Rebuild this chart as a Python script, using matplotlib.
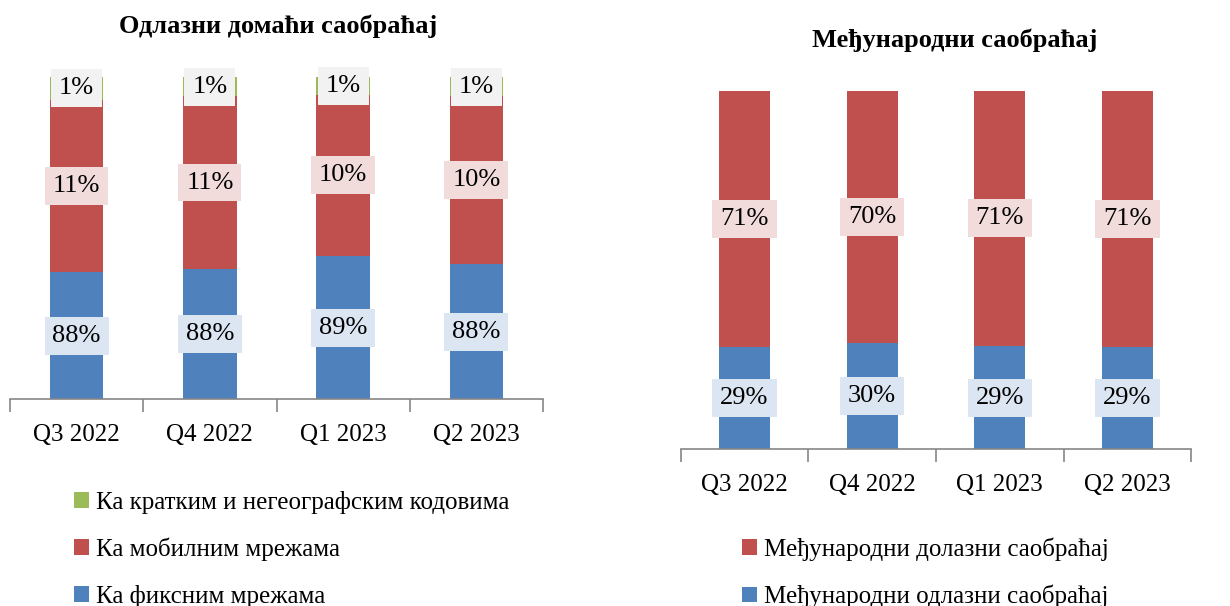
import matplotlib.pyplot as plt
import numpy as np

plt.rcParams['font.family'] = ['Liberation Serif', 'DejaVu Serif']

quarters = ['Q3 2022', 'Q4 2022', 'Q1 2023', 'Q2 2023']

# Odlazni domaci saobracaj (%)
fiksne = [87.9, 88.1, 88.9, 88.4]
mobilne = [10.7, 10.7, 10.0, 10.4]
kratki = [1.4, 1.2, 1.1, 1.2]

# Medjunarodni saobracaj (%)
odlazni = [28.6, 29.7, 28.8, 28.6]
dolazni = [71.4, 70.3, 71.2, 71.4]

blue = '#4f81bd'
red = '#c0504d'
green = '#9bbb59'
box_blue = '#dce6f2'
box_red = '#f2dcdb'
box_gray = '#f2f2f2'

fig = plt.figure(figsize=(12.3, 6.06), dpi=100)
W, H = 1230, 606


def px_axes(x0, x1, ybot, ytop):
    return fig.add_axes([x0 / W, (H - ybot) / H, (x1 - x0) / W, (ybot - ytop) / H])


def style_axis(ax):
    for s in ['top', 'right', 'left']:
        ax.spines[s].set_visible(False)
    ax.spines['bottom'].set_color('#868686')
    ax.spines['bottom'].set_linewidth(1.2)
    ax.set_yticks([])
    ax.set_xlim(-0.5, 3.5)
    ax.set_xticks(range(4))
    ax.set_xticklabels(quarters, fontsize=18)
    ax.set_xticks(np.arange(-0.5, 4.0, 1.0), minor=True)
    ax.tick_params(axis='x', which='major', length=0, pad=18)
    ax.tick_params(axis='x', which='minor', length=9, width=1.2, color='#868686')


def label(ax, x, y, val, bg):
    ax.text(x, y, f'{val:.0f}%', ha='center', va='center', fontsize=19,
            bbox=dict(boxstyle='square,pad=0.3', fc=bg, ec='none'), zorder=5)


x = np.arange(4)
wid = 0.4

# left chart
ax1 = px_axes(10, 543, 399.3, 77)
base = 80
b1 = ax1.bar(x, np.array(fiksne) - base, wid, bottom=base, color=blue)
b2 = ax1.bar(x, mobilne, wid, bottom=fiksne, color=red)
top2 = np.array(fiksne) + np.array(mobilne)
b3 = ax1.bar(x, kratki, wid, bottom=top2, color=green)
ax1.set_ylim(80, 100)
style_axis(ax1)
for i in range(4):
    label(ax1, x[i], (base + fiksne[i]) / 2, fiksne[i], box_blue)
    label(ax1, x[i], fiksne[i] + mobilne[i] / 2, mobilne[i], box_red)
    label(ax1, x[i], top2[i] + kratki[i] / 2, kratki[i], box_gray)
fig.text(278 / W, 1 - 26 / H, 'Одлазни домаћи саобраћај', ha='center', va='center',
         fontsize=19, fontweight='bold')

# right chart
ax2 = px_axes(680.7, 1191.3, 449.3, 90.7)
c1 = ax2.bar(x, odlazni, wid, color=blue)
c2 = ax2.bar(x, dolazni, wid, bottom=odlazni, color=red)
ax2.set_ylim(0, 100)
style_axis(ax2)
for i in range(4):
    label(ax2, x[i], odlazni[i] / 2, odlazni[i], box_blue)
    label(ax2, x[i], odlazni[i] + dolazni[i] / 2, dolazni[i], box_red)
fig.text(955 / W, 1 - 40 / H, 'Међународни саобраћај', ha='center', va='center',
         fontsize=19, fontweight='bold')

# legends
fig.legend([b3, b2, b1], ['Ка кратким и негеографским кодовима', 'Ка мобилним мрежама', 'Ка фиксним мрежама'],
           loc='upper left', bbox_to_anchor=(51 / W, 1 - 468 / H), frameon=False, fontsize=18,
           handlelength=0.6, handleheight=0.6, handletextpad=0.3, labelspacing=0.95)
fig.legend([c2, c1], ['Међународни долазни саобраћај', 'Међународни одлазни саобраћај'],
           loc='upper left', bbox_to_anchor=(719 / W, 1 - 515 / H), frameon=False, fontsize=18,
           handlelength=0.6, handleheight=0.6, handletextpad=0.3, labelspacing=0.95)

fig.savefig('out.png', dpi=100)
